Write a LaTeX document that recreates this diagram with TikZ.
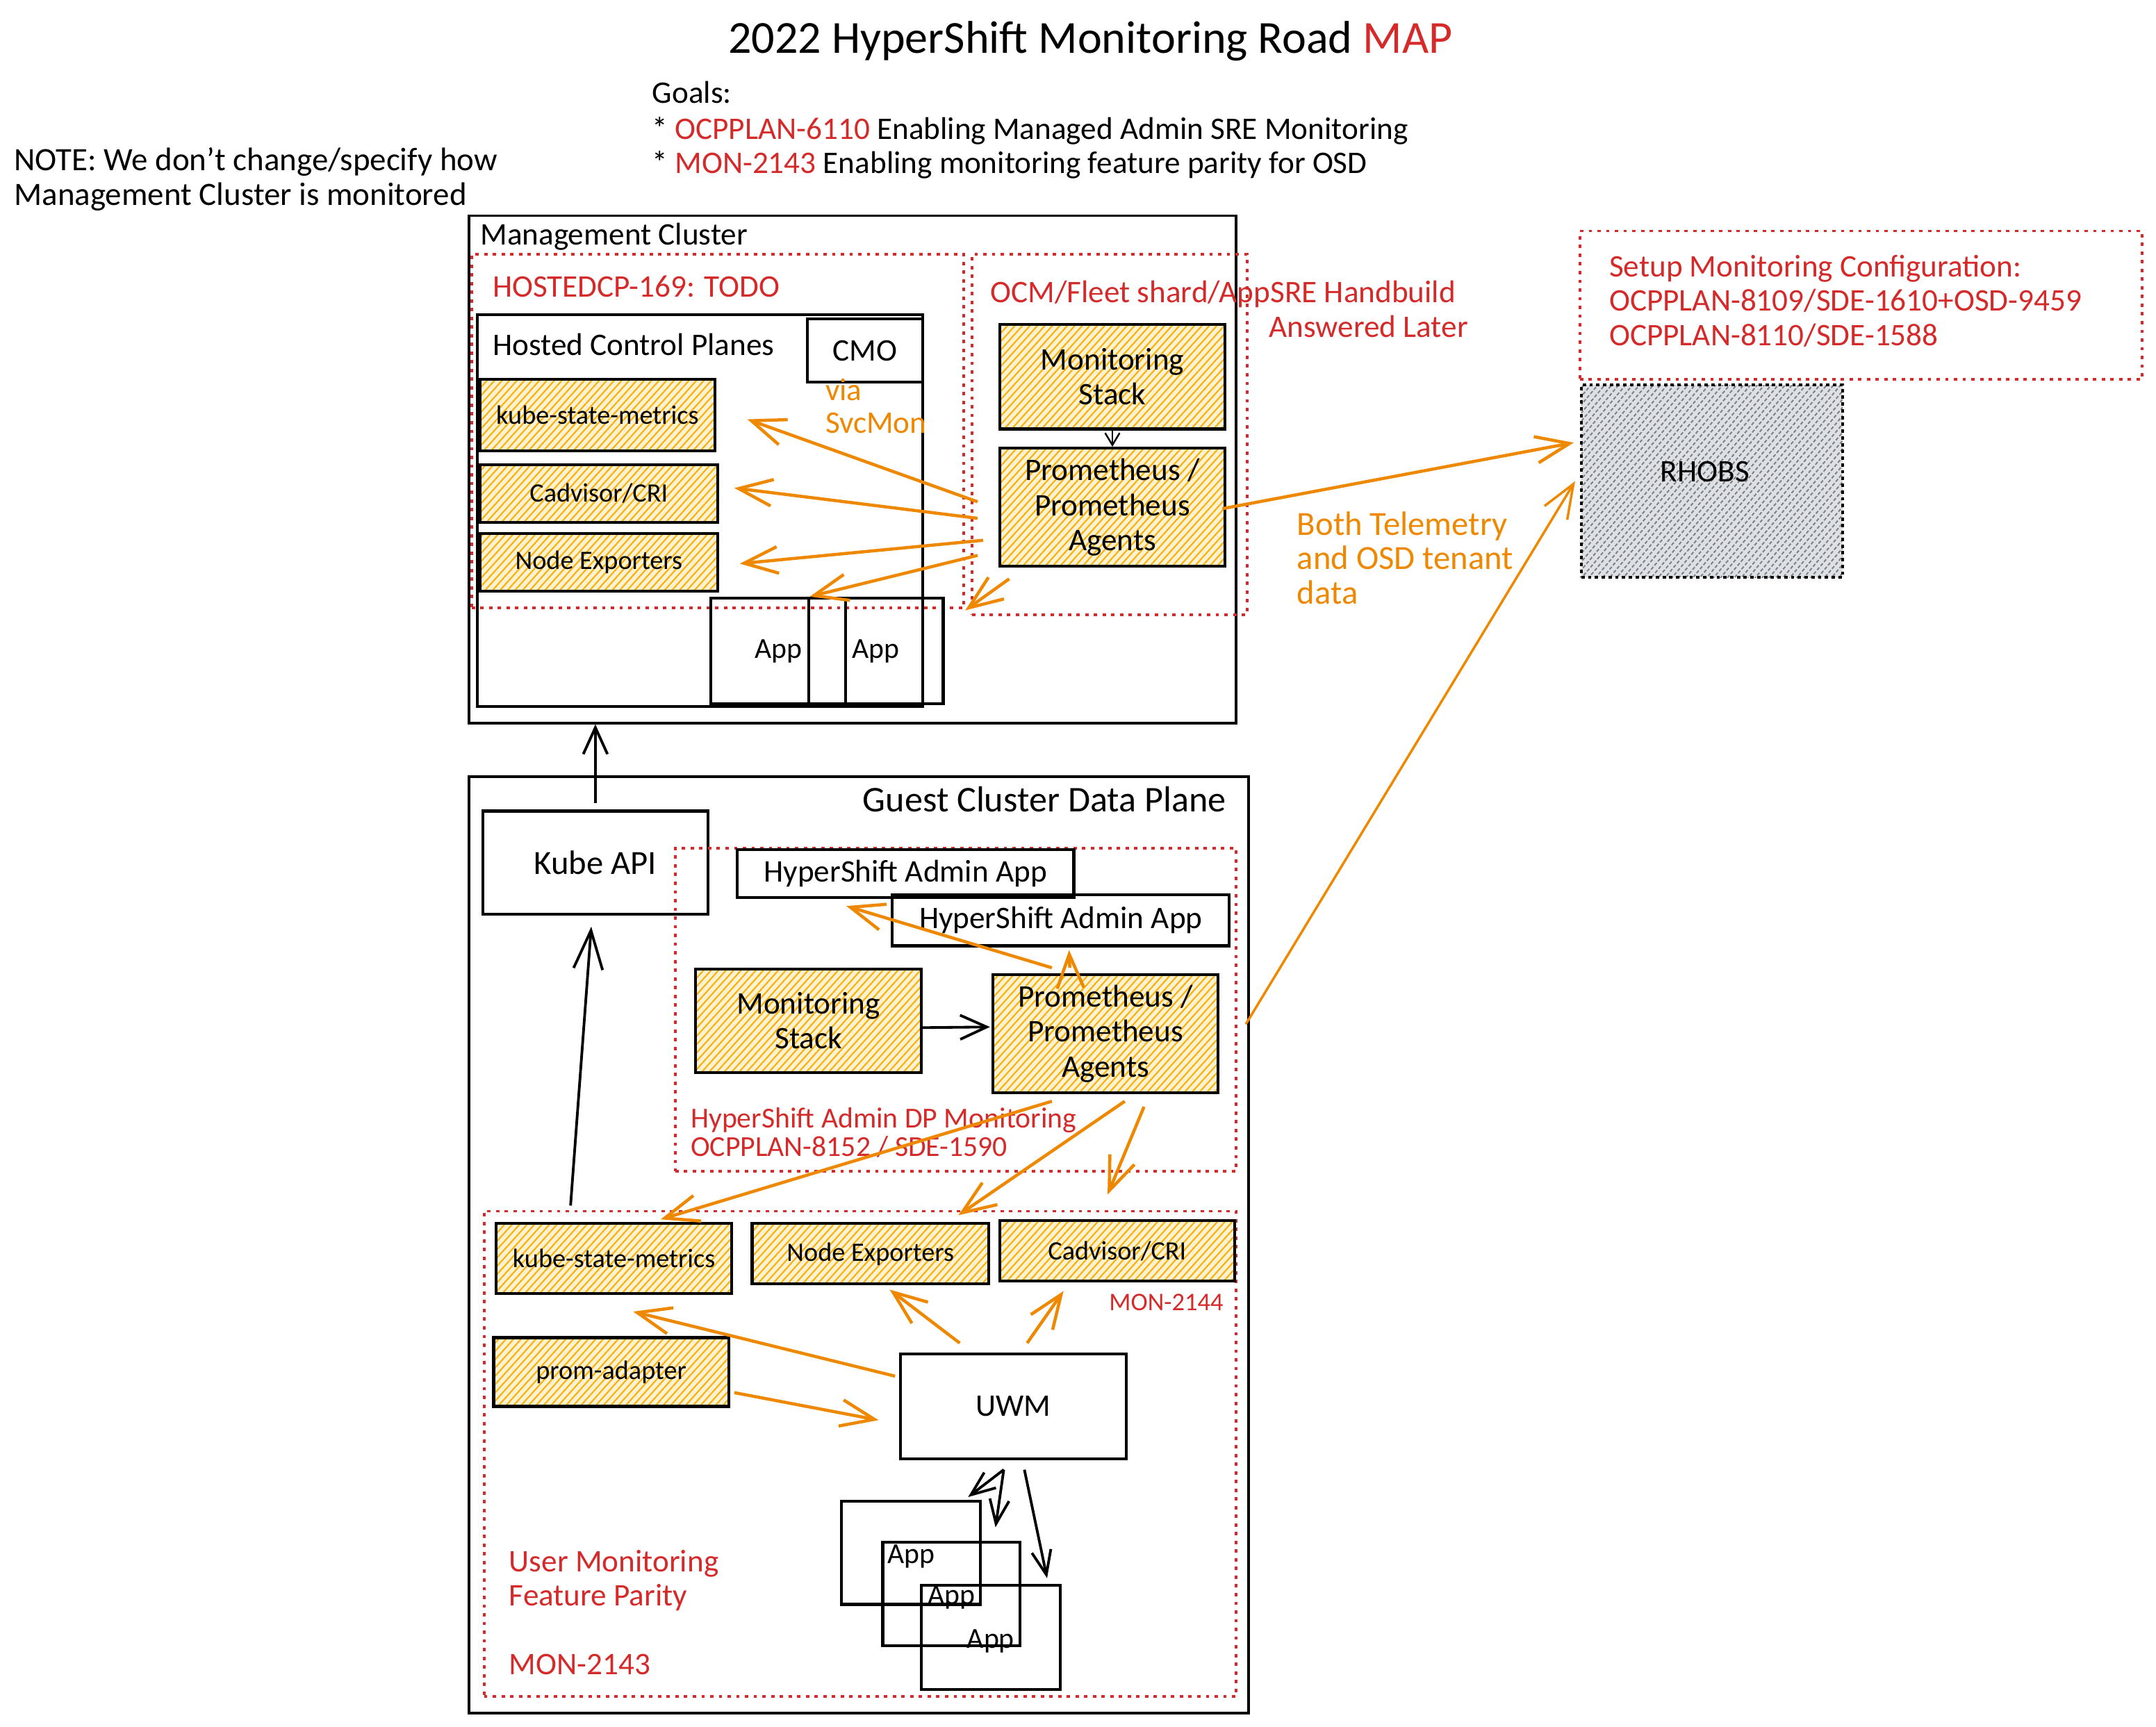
\documentclass[tikz,border=0pt]{standalone}
\usepackage{fontspec}
\setmainfont{Carlito}
\usetikzlibrary{arrows.meta,patterns.meta,fit,calc}
\definecolor{xred}{RGB}{212,42,42}
\definecolor{xorange}{RGB}{238,136,0}
\definecolor{yback}{RGB}{255,242,210}
\definecolor{yline}{RGB}{248,176,10}
\definecolor{gback}{RGB}{222,224,227}
\definecolor{gline}{RGB}{120,128,136}
\newcommand\fz[2]{\fontsize{#1}{#2}\selectfont}
\begin{document}
\begin{tikzpicture}[x=0.02cm,y=-0.02cm,
  box/.style={draw, line width=1.2pt, inner sep=0pt},
  ybox/.style={box, preaction={fill=yback}, pattern={Lines[angle=48,distance=2.3pt,line width=0.6pt]}, pattern color=yline},
  gbox/.style={draw, dash pattern=on 1.4pt off 1.4pt, line width=1.2pt, inner sep=0pt, preaction={fill=gback}, pattern={Lines[angle=50,distance=2.2pt,line width=0.55pt]}, pattern color=gline},
  dotbox/.style={draw=xred, dash pattern=on 1.4pt off 2.2pt, line width=1.1pt, inner sep=0pt},
  bt/.style={font=\fz{13}{14.5}, align=center, inner sep=0pt},
  st/.style={font=\fz{11}{14}, align=center, inner sep=0pt},
  txt/.style={inner sep=0pt, anchor=mid west, yshift=-2.3pt, font=\fz{13}{14.5}},
  rtxt/.style={txt, text=xred},
  otxt/.style={txt, text=xorange},
  oarr/.style={draw=xorange, line width=1.3pt, -{Straight Barb[length=14pt,width=11pt]}},
  barr/.style={draw=black, line width=1.1pt, -{Straight Barb[length=10pt,width=8pt]}},
]
\useasboundingbox (0,0) rectangle (1568,1256);
% title and notes
\node[inner sep=0pt, font=\fz{19}{22}] (title) at (793,30) {2022 HyperShift Monitoring Road \textcolor{xred}{MAP}};
\node[txt] (goals) at (474,67) {Goals:};
\node[txt] (g1) at (474,93) {* \textcolor{xred}{OCPPLAN-6110} Enabling Managed Admin SRE Monitoring};
\node[txt] (g2) at (474,118) {* \textcolor{xred}{MON-2143} Enabling monitoring feature parity for OSD};
\node[txt, font=\fz{13.5}{15}] (n1) at (10,116) {NOTE: We don't change/specify how};
\node[txt, font=\fz{13.5}{15}] (n2) at (10,141) {Management Cluster is monitored};
% management cluster
\node[box, line width=1pt, fit={(341,157)(899,526)}] (mc) {};
\node[txt] (mclbl) at (349,170) {Management Cluster};
\node[dotbox, fit={(343,185)(701,442)}] (hdp) {};
\node[rtxt] (hdplbl) at (358,208) {HOSTEDCP-169: TODO};
\node[dotbox, fit={(707,185)(907,447)}] (ocm) {};
\node[rtxt] (ocmlbl) at (720,212) {OCM/Fleet shard/AppSRE Handbuild};
\node[rtxt, anchor=mid east] (ocmlbl2) at (1068,237) {Answered Later};
\node[box, fit={(347,229)(671,514)}] (hcp) {};
\node[txt] (hcplbl) at (358,250) {Hosted Control Planes};
\node[box, fit={(587,232)(671,278)}, label={[bt, name=cmot]center:CMO}] (cmo) {};
\node[otxt] (via) at (600,283) {via};
\node[otxt] (svc) at (600,307) {SvcMon};
\node[ybox, fit={(349,276)(520,328)}, label={[st, name=ksm1t]center:kube-state-metrics}] (ksm1) {};
\node[ybox, fit={(349,338)(522,380)}, label={[st, name=cad1t]center:Cadvisor/CRI}] (cad1) {};
\node[ybox, fit={(349,388)(522,430)}, label={[st, name=ne1t]center:Node Exporters}] (ne1) {};
\node[box, fit={(517,435)(615,512)}, label={[bt, font=\fz{12}{14}, name=app1t]center:App}] (app1) {};
\node[box, fit={(588,435)(686,512)}, label={[bt, font=\fz{12}{14}, name=app2t]center:App}] (app2) {};
\node[ybox, fit={(727,236)(891,312)}, label={[bt, name=ms1t]center:Monitoring\\Stack}] (ms1) {};
\node[ybox, fit={(727,326)(891,412)}, label={[bt, name=pa1t]center:Prometheus /\\Prometheus\\Agents}] (pa1) {};
% RHOBS side
\node[dotbox, fit={(1149,168)(1558,276)}] (setup) {};
\node[rtxt] (s1) at (1170,193) {Setup Monitoring Configuration:};
\node[rtxt] (s2) at (1170,218) {OCPPLAN-8109/SDE-1610+OSD-9459};
\node[rtxt] (s3) at (1170,243) {OCPPLAN-8110/SDE-1588};
\node[gbox, fit={(1150,280)(1340,420)}] (rhobs) {};
\node[bt] (rhobst) at (1240,343) {RHOBS};
\node[otxt, font=\fz{14}{15}] (b1) at (943,381) {Both Telemetry};
\node[otxt, font=\fz{14}{15}] (b2) at (943,406) {and OSD tenant};
\node[otxt, font=\fz{14}{15}] (b3) at (943,431) {data};
% guest cluster
\node[box, line width=1pt, fit={(341,565)(908,1246)}] (gc) {};
\node[txt, font=\fz{15}{17}, anchor=mid east] (gclbl) at (892,582) {Guest Cluster Data Plane};
\node[box, fit={(351,590)(515,665)}, label={[bt, font=\fz{14}{16}, name=kapit]center:Kube API}] (kapi) {};
\node[dotbox, fit={(491,617)(899,852)}] (hadp) {};
\node[box, fit={(536,618)(781,653)}, label={[bt, name=haa1t]center:HyperShift Admin App}] (haa1) {};
\node[box, fit={(649,651)(894,688)}, label={[bt, name=haa2t]center:HyperShift Admin App}] (haa2) {};
\node[ybox, fit={(506,705)(670,780)}, label={[bt, name=ms2t]center:Monitoring\\Stack}] (ms2) {};
\node[ybox, fit={(722,709)(886,795)}, label={[bt, name=pa2t]center:Prometheus /\\Prometheus\\Agents}] (pa2) {};
\node[rtxt, font=\fz{12}{14}] (h1) at (502,812) {HyperShift Admin DP Monitoring};
\node[rtxt, font=\fz{12}{14}] (h2) at (502,833) {OCPPLAN-8152 / SDE-1590};
\node[dotbox, fit={(352,881)(899,1234)}] (umf) {};
\node[ybox, fit={(361,890)(532,941)}, label={[st, name=ksm2t]center:kube-state-metrics}] (ksm2) {};
\node[ybox, fit={(547,890)(719,934)}, label={[st, name=ne2t]center:Node Exporters}] (ne2) {};
\node[ybox, fit={(727,888)(898,932)}, label={[st, name=cad2t]center:Cadvisor/CRI}] (cad2) {};
\node[rtxt, font=\fz{10.5}{12}, anchor=mid east] (m2144) at (890,945) {MON-2144};
\node[ybox, fit={(359,973)(530,1023)}, label={[st, name=padt]center:prom-adapter}] (pad) {};
\node[box, fit={(655,985)(819,1061)}, label={[bt, name=uwmt]center:UWM}] (uwm) {};
\node[box, fit={(612,1092)(713,1167)}, label={[bt, font=\fz{12}{14}, name=a1t, yshift=-1.5pt]center:App}] (a1) {};
\node[box, fit={(642,1122)(742,1197)}, label={[bt, font=\fz{12}{14}, name=a2t, yshift=-1.5pt]center:App}] (a2) {};
\node[box, fit={(670,1153)(771,1229)}, label={[bt, font=\fz{12}{14}, name=a3t, yshift=-1.5pt]center:App}] (a3) {};
\node[rtxt] (u1) at (370,1135) {User Monitoring};
\node[rtxt] (u2) at (370,1160) {Feature Parity};
\node[rtxt] (u3) at (370,1210) {MON-2143};
% connectors
\draw[draw=black, line width=0.7pt, -{Straight Barb[length=5pt,width=6pt]}] (ms1.south) -- (pa1.north);
\draw[oarr] ($(pa1.west)+(-15,-4)$) -- ($(ksm1.east)+(23,3)$);
\draw[oarr] ($(pa1.west)+(-15,8)$) -- ($(cad1.east)+(11,-4)$);
\draw[oarr] ($(pa1.west)+(-11,24)$) -- ($(ne1.east)+(15,1)$);
\draw[oarr] ($(pa1.west)+(-15,35)$) -- ($(app2.north west)+(2,0)$);
\draw[oarr] ($(pa1.south west)+(8,8)$) -- ($(hdp.south east)+(0,1)$);
\draw[oarr] ($(pa1.east)+(-3,1)$) -- ($(rhobs.west)+(-5,-28)$);
\draw[oarr, line width=1pt] ($(pa2.east)+(19,-7)$) -- ($(rhobs.west)+(-4,0)$);
\draw[barr, -{Straight Barb[length=11pt,width=10pt]}] ($(kapi.north)+(0,-5)$) -- (kapi.north |- mc.south);
\draw[barr, -{Straight Barb[length=16pt,width=12pt]}] ($(ksm2.north west)+(55,-12)$) -- ($(kapi.south)+(-3,8)$);
\draw[barr, -{Straight Barb[length=11pt,width=10pt]}] ($(ms2.east)+(0,5)$) -- ($(pa2.west)+(-1,-5)$);
\draw[oarr] ($(pa2.north)+(-39,-4)$) -- ($(haa1.south)+(-43,5)$);
\draw[oarr] ($(pa2.north)+(-26,-4)$) -- ($(haa2.south)+(6,2)$);
\draw[oarr] ($(pa2.south)+(-39,5)$) -- ($(ksm2.north)+(34,-2)$);
\draw[oarr] ($(pa2.south)+(14,5)$) -- ($(ne2.north)+(64,-5)$);
\draw[oarr] ($(pa2.south)+(28,9)$) -- ($(cad2.north)+(-7,-18)$);
\draw[oarr] ($(uwm.west)+(-3,-22)$) -- ($(ksm2.south)+(14,12)$);
\draw[oarr] ($(pad.east)+(3,15)$) -- ($(uwm.west)+(-15,10)$);
\draw[oarr] ($(uwm.north)+(-39,-7)$) -- ($(ne2.south)+(14,3)$);
\draw[oarr] ($(uwm.north)+(10,-7)$) -- ($(cad2.south)+(-39,6)$);
\draw[barr] ($(uwm.south)+(-7,7)$) -- ($(a1.north east)+(-10,-2)$);
\draw[barr] ($(uwm.south)+(-7,7)$) -- ($(a2.north)+(32,-10)$);
\draw[barr] ($(uwm.south)+(8,7)$) -- ($(a3.north)+(41,-4)$);
\end{tikzpicture}
\end{document}
